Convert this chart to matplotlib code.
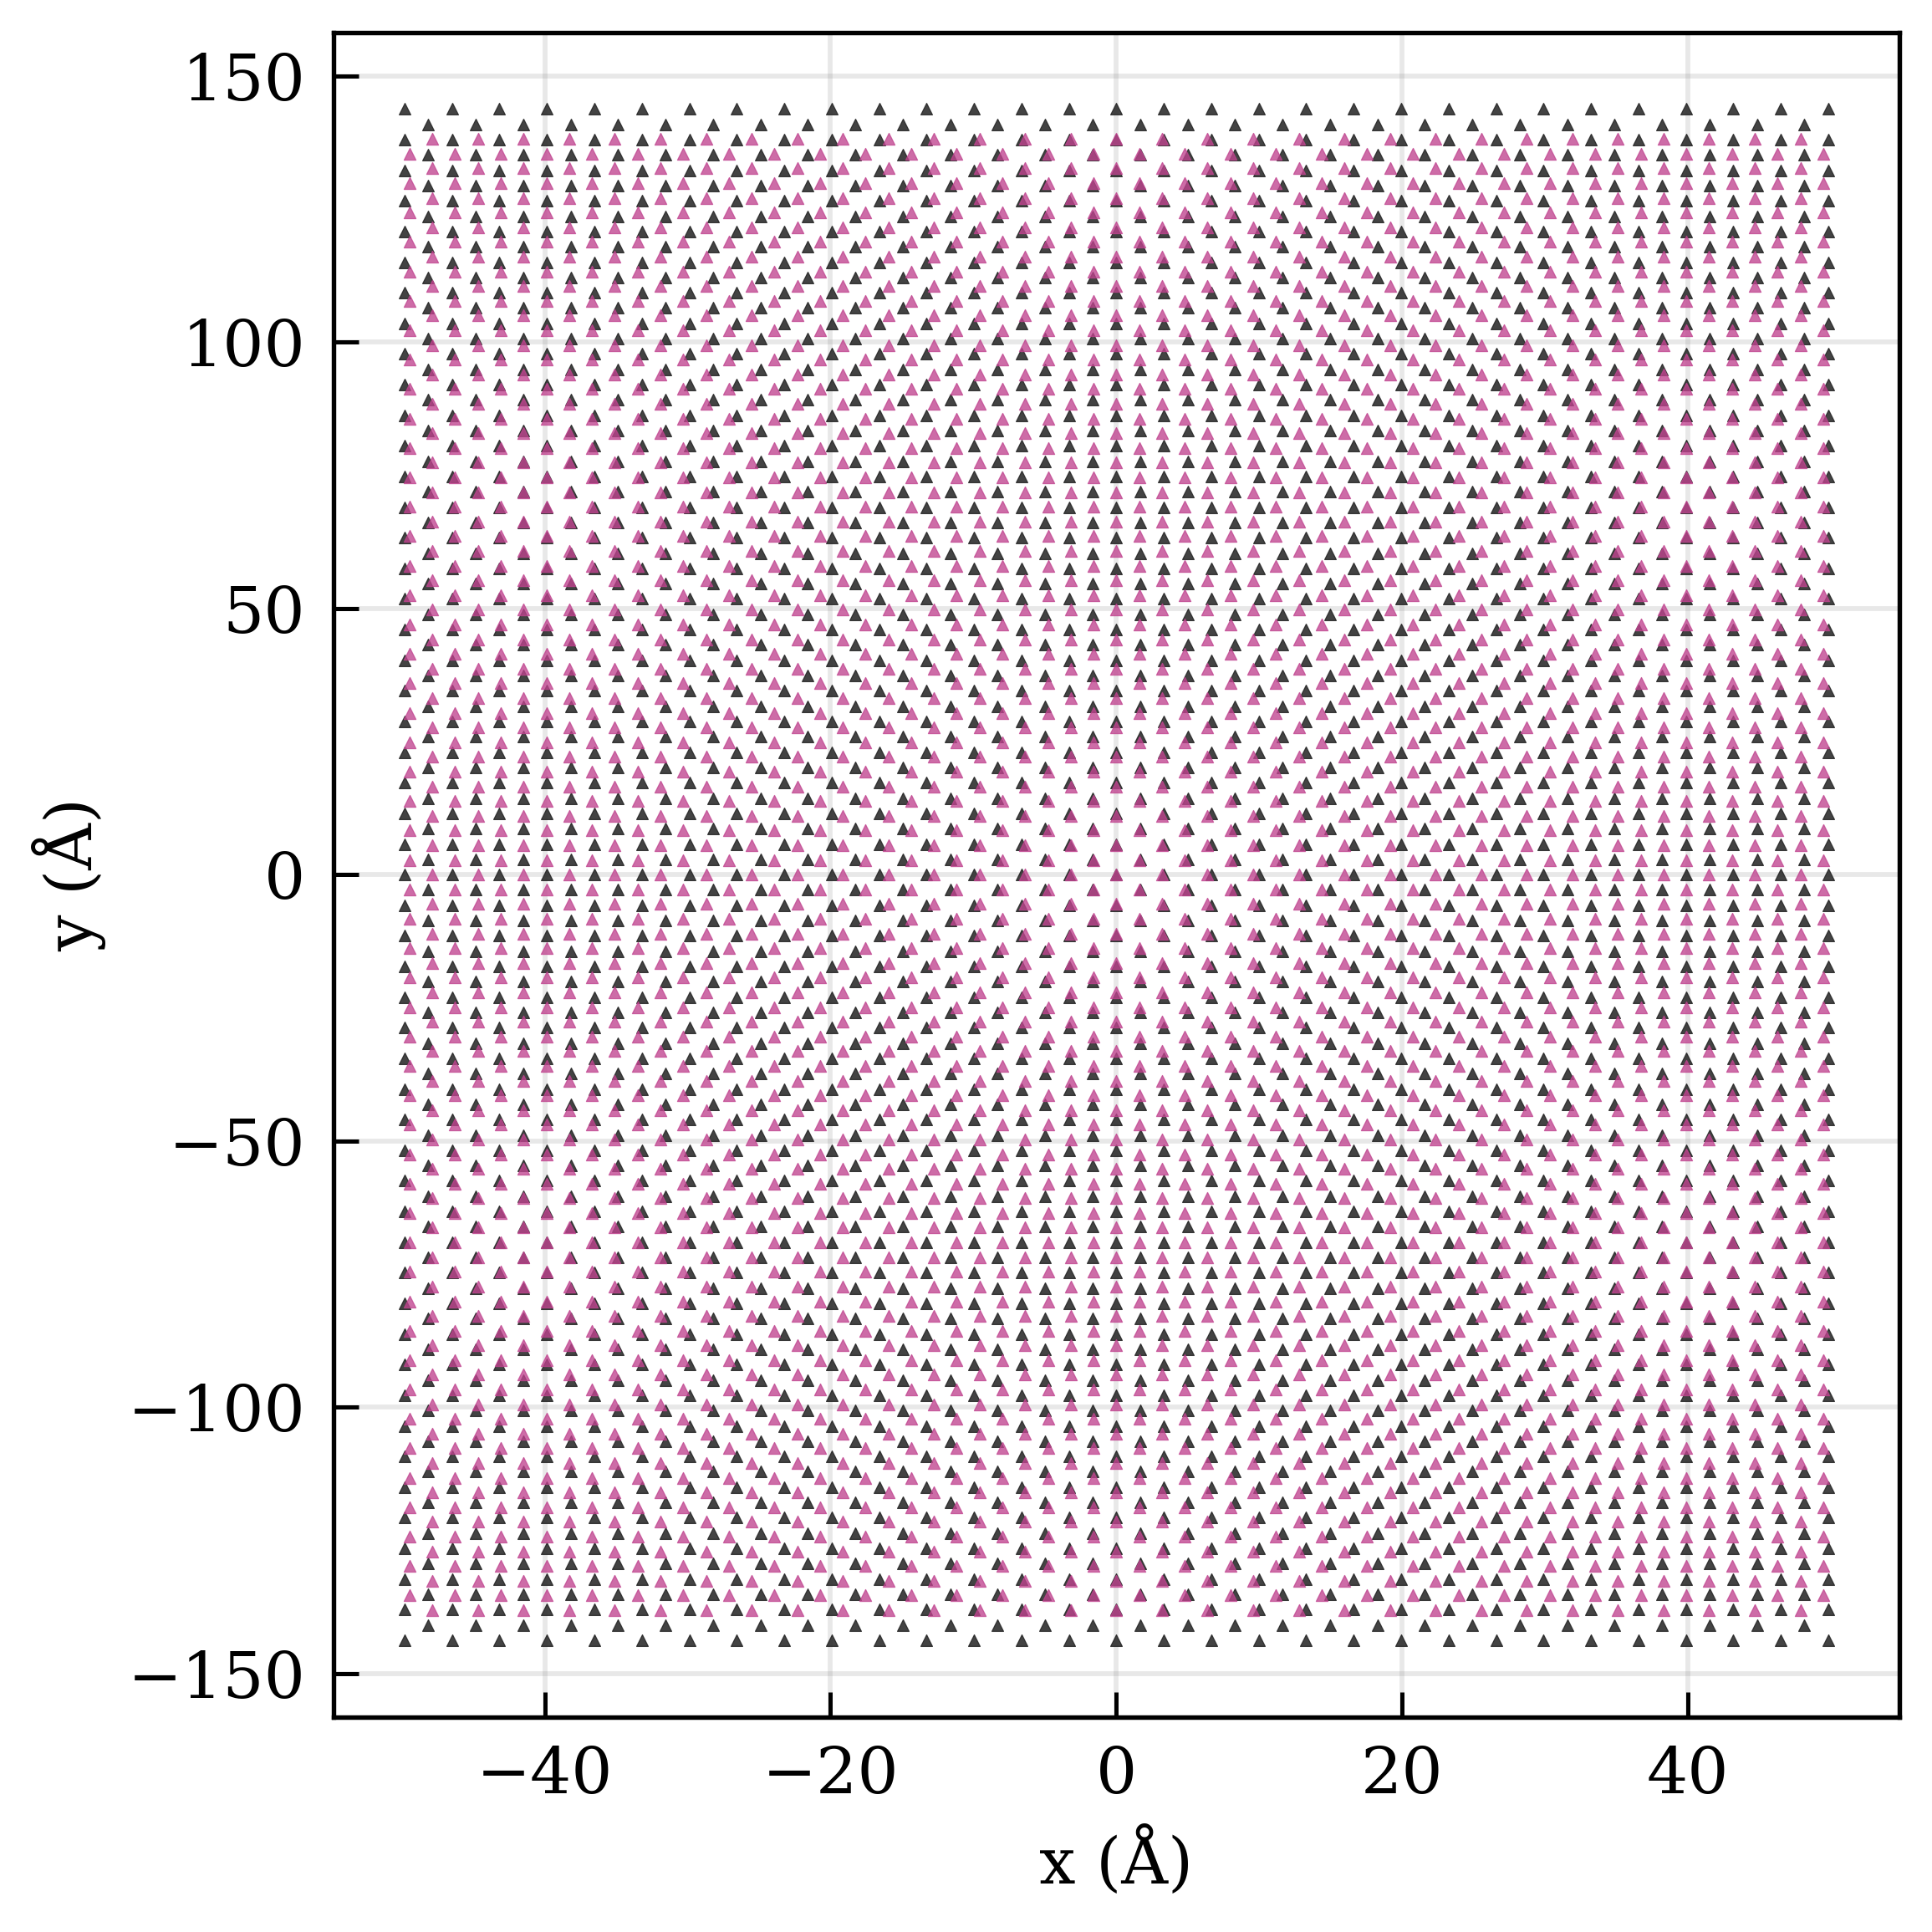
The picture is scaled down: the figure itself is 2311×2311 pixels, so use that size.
import matplotlib
matplotlib.use("Agg")
import matplotlib.pyplot as plt

# Row heights and column positions (Angstrom)
# rows run bottom to top; rows at even index use the *_even_x columns
black_rows_y = [
    -143.76, -140.88, -138.01, -135.13, -132.26, -129.38, -126.51, -123.63, -120.76, -117.88,
    -115.01, -112.13, -109.26, -106.38, -103.51, -100.63, -97.76, -94.88, -92.01, -89.13,
    -86.26, -83.38, -80.51, -77.63, -74.76, -71.88, -69.00, -66.13, -63.25, -60.38,
    -57.50, -54.63, -51.75, -48.88, -46.00, -43.13, -40.25, -37.38, -34.50, -31.63,
    -28.75, -25.88, -23.00, -20.13, -17.25, -14.38, -11.50, -8.63, -5.75, -2.88,
    0.00,
    2.88, 5.75, 8.63, 11.50, 14.38, 17.25, 20.13, 23.00, 25.88, 28.75,
    31.63, 34.50, 37.38, 40.25, 43.13, 46.00, 48.88, 51.75, 54.63, 57.50,
    60.38, 63.25, 66.13, 69.00, 71.88, 74.76, 77.63, 80.51, 83.38, 86.26,
    89.13, 92.01, 94.88, 97.76, 100.63, 103.51, 106.38, 109.26, 112.13, 115.01,
    117.88, 120.76, 123.63, 126.51, 129.38, 132.26, 135.13, 138.01, 140.88, 143.76,
]
black_even_x = [
    -49.80, -46.48, -43.16, -39.84, -36.52, -33.20, -29.88, -26.56, -23.24, -19.92, -16.60,
    -13.28, -9.96, -6.64, -3.32, 0.00, 3.32, 6.64, 9.96, 13.28, 16.60, 19.92, 23.24, 26.56,
    29.88, 33.20, 36.52, 39.84, 43.16, 46.48, 49.80,
]
black_odd_x = [
    -48.14, -44.82, -41.50, -38.18, -34.86, -31.54, -28.22, -24.90, -21.58, -18.26, -14.94,
    -11.62, -8.30, -4.98, -1.66, 1.66, 4.98, 8.30, 11.62, 14.94, 18.26, 21.58, 24.90, 28.22,
    31.54, 34.86, 38.18, 41.50, 44.82, 48.14,
]

pink_rows_y = [
    -138.13, -135.37, -132.60, -129.84, -127.08, -124.32, -121.55, -118.79, -116.03, -113.27,
    -110.50, -107.74, -104.98, -102.22, -99.45, -96.69, -93.93, -91.17, -88.40, -85.64,
    -82.88, -80.12, -77.35, -74.59, -71.83, -69.07, -66.30, -63.54, -60.78, -58.01,
    -55.25, -52.49, -49.73, -46.96, -44.20, -41.44, -38.68, -35.91, -33.15, -30.39,
    -27.63, -24.86, -22.10, -19.34, -16.58, -13.81, -11.05, -8.29, -5.53, -2.76,
    0.00,
    2.76, 5.53, 8.29, 11.05, 13.81, 16.58, 19.34, 22.10, 24.86, 27.63,
    30.39, 33.15, 35.91, 38.68, 41.44, 44.20, 46.96, 49.73, 52.49, 55.25,
    58.01, 60.78, 63.54, 66.30, 69.07, 71.83, 74.59, 77.35, 80.12, 82.88,
    85.64, 88.40, 91.17, 93.93, 96.69, 99.45, 102.22, 104.98, 107.74, 110.50,
    113.27, 116.03, 118.79, 121.55, 124.32, 127.08, 129.84, 132.60, 135.37, 138.13,
]
pink_even_x = [
    -47.85, -44.66, -41.47, -38.28, -35.09, -31.90, -28.71, -25.52, -22.33, -19.14, -15.95,
    -12.76, -9.57, -6.38, -3.19, 0.00, 3.19, 6.38, 9.57, 12.76, 15.95, 19.14, 22.33, 25.52,
    28.71, 31.90, 35.09, 38.28, 41.47, 44.66, 47.85,
]
pink_odd_x = [
    -49.45, -46.26, -43.07, -39.88, -36.69, -33.50, -30.31, -27.12, -23.93, -20.74, -17.55,
    -14.36, -11.17, -7.98, -4.79, -1.60, 1.60, 4.79, 7.98, 11.17, 14.36, 17.55, 20.74, 23.93,
    27.12, 30.31, 33.50, 36.69, 39.88, 43.07, 46.26, 49.45,
]

x_ticks = [-40, -20, 0, 20, 40]
y_ticks = [-150, -100, -50, 0, 50, 100, 150]


def lattice_points(rows_y, even_x, odd_x):
    xs, ys = [], []
    for j, y in enumerate(rows_y):
        columns = even_x if j % 2 == 0 else odd_x
        xs.extend(columns)
        ys.extend([y] * len(columns))
    return xs, ys


plt.rcParams["font.family"] = "DejaVu Serif"

fig = plt.figure(figsize=(2311 / 300, 2311 / 300), dpi=300)
ax = fig.add_axes([398.8 / 2311, 1 - 2053.5 / 2311, (2272 - 398.8) / 2311, (2053.5 - 38.8) / 2311])

bx, by = lattice_points(black_rows_y, black_even_x, black_odd_x)
px, py = lattice_points(pink_rows_y, pink_even_x, pink_odd_x)

ax.scatter(bx, by, s=11, marker="^", color="#222222", alpha=0.85, linewidths=0.3, zorder=3)
ax.scatter(px, py, s=11.5, marker="^", color="#c0438f", alpha=0.78, linewidths=0.3, zorder=4)

ax.set_xticks(x_ticks)
ax.set_yticks(y_ticks)
ax.set_xlabel("x (Å)", fontsize=18.5, labelpad=5.5)
ax.set_ylabel("y (Å)", fontsize=18.5, labelpad=6)
ax.tick_params(direction="in", length=7.2, width=1.2, labelsize=18.6, pad=8)
ax.grid(True, color="gray", alpha=0.18, linewidth=1.4)
ax.set_axisbelow(True)
for spine in ax.spines.values():
    spine.set_linewidth(1.3)

fig.savefig("out.png", dpi=300)
